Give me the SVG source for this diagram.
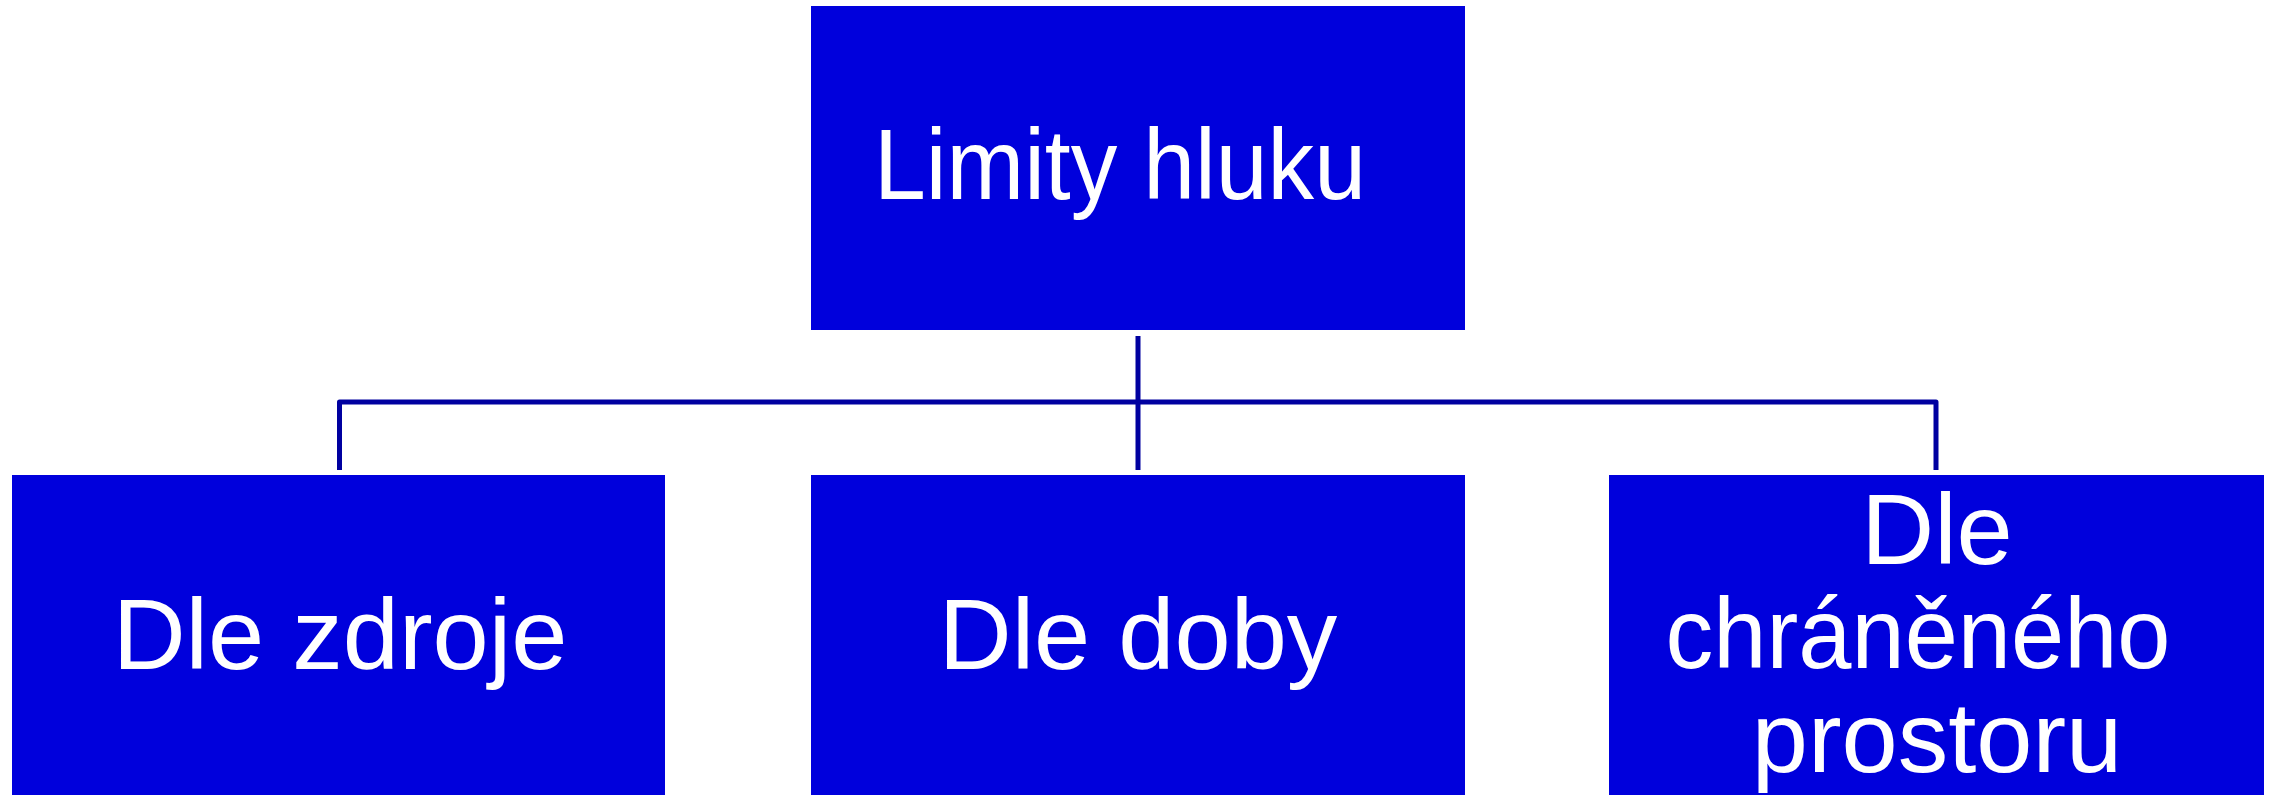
<svg xmlns="http://www.w3.org/2000/svg" width="2270" height="795" viewBox="0 0 2270 795">
<style>
.box{fill:#0000DC;}
.lbl{fill:#FFFFFF;font-family:"Liberation Sans",Arial,sans-serif;font-size:101px;text-anchor:middle;}
.conn{fill:none;stroke:#0000A0;stroke-width:5;stroke-linejoin:round;}
</style>
<rect width="2270" height="795" fill="#FFFFFF"/>
<g id="connectors">
<path class="conn" d="M1138,336 V470"/>
<path class="conn" d="M339.5,470 V402 H1936 V470"/>
</g>
<g id="node-limity">
<rect class="box" x="811" y="6" width="654" height="324"/>
<text class="lbl" x="1120" y="199" textLength="492" lengthAdjust="spacingAndGlyphs">Limity hluku</text>
</g>
<g id="node-zdroje">
<rect class="box" x="12" y="475" width="653" height="320"/>
<text class="lbl" x="340" y="669">Dle zdroje</text>
</g>
<g id="node-doby">
<rect class="box" x="811" y="475" width="654" height="320"/>
<text class="lbl" x="1138" y="669">Dle doby</text>
</g>
<g id="node-prostoru">
<rect class="box" x="1609" y="475" width="655" height="320"/>
<text class="lbl" x="1937" y="564">Dle</text>
<text class="lbl" x="1918" y="668" textLength="505" lengthAdjust="spacingAndGlyphs">chráněného</text>
<text class="lbl" x="1937" y="772">prostoru</text>
</g>
</svg>
